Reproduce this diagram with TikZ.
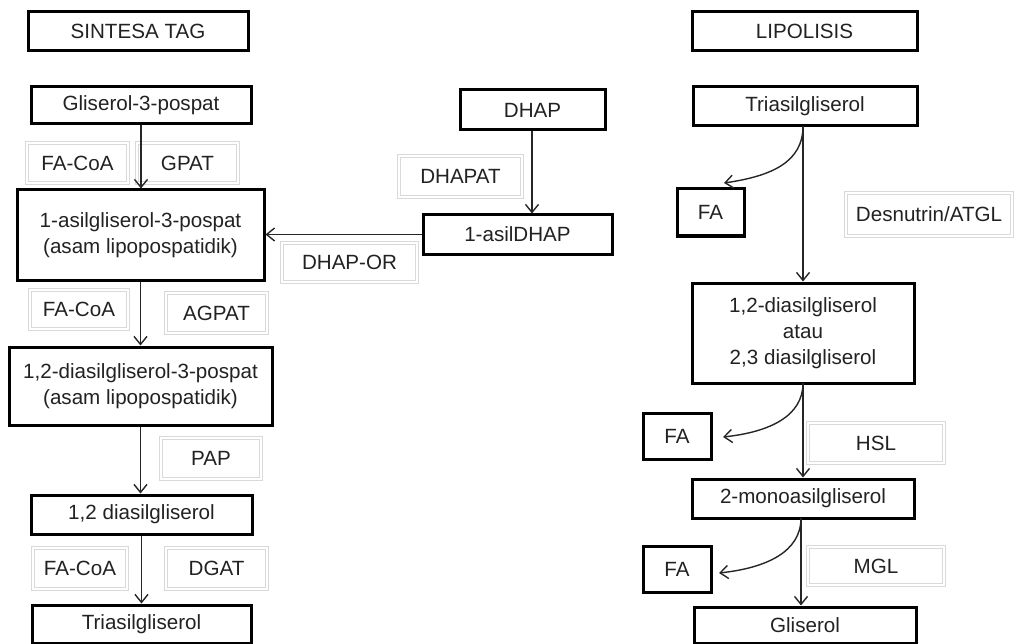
\documentclass[tikz,border=0pt]{standalone}
\usepackage{fontspec}
\setmainfont{Liberation Sans}
\usetikzlibrary{arrows.meta}
\definecolor{ink}{HTML}{222222}
\tikzset{
  stage/.style={draw=black, line width=3pt, fill=white, inner sep=0pt,
    text=ink, align=center, font=\fontsize{20.6}{26}\selectfont},
  enzyme/.style={draw=black!15, line width=1pt, double=white, double distance=2.4pt,
    inner sep=0pt, text=ink, align=center, font=\fontsize{20.6}{26}\selectfont},
  arr/.style={draw=black!85, line width=1.4pt, -{Straight Barb[length=8pt,width=13pt,line width=1.4pt]}},
}
% box given by its corners (x1,y1) and (x2,y2) in pixel units
\newcommand{\boxat}[7]{%
  \node[#1, minimum width={#5-#3}, minimum height={#6-#4}] (#2) at ({(#3+#5)/2},{(#4+#6)/2}) {#7};}
\begin{document}
\begin{tikzpicture}[x=1pt,y=-1pt]
\useasboundingbox (0,0) rectangle (1016,644);

% ---- TAG synthesis ----
\boxat{stage}{title1}{28}{12}{248}{51}{SINTESA TAG}
\boxat{stage}{g3p}{31}{87}{251}{124}{Gliserol-3-pospat}
\boxat{enzyme}{faA}{27}{143}{128}{183}{FA-CoA}
\boxat{enzyme}{gpat}{137}{143}{238}{183}{GPAT}
\boxat{stage}{lpa}{17}{190}{264}{280}{1-asilgliserol-3-pospat\\(asam lipopospatidik)}
\boxat{enzyme}{faB}{30}{290}{128}{329}{FA-CoA}
\boxat{enzyme}{agpat}{166}{293}{267}{333}{AGPAT}
\boxat{stage}{pa}{9}{347}{272}{425}{1,2-diasilgliserol-3-pospat\\(asam lipopospatidik)}
\boxat{enzyme}{pap}{161}{438}{261}{479}{PAP}
\boxat{stage}{dag}{31}{495}{252}{534}{1,2 diasilgliserol}
\boxat{enzyme}{faC}{33}{548}{127}{589}{FA-CoA}
\boxat{enzyme}{dgat}{166}{548}{267}{589}{DGAT}
\boxat{stage}{tagL}{32}{605}{251}{643}{Triasilgliserol}

% ---- DHAP branch ----
\boxat{stage}{dhap}{460}{90}{605}{130}{DHAP}
\boxat{enzyme}{dhapat}{399}{156}{522}{197}{DHAPAT}
\boxat{stage}{adhap}{423}{215}{612}{254}{1-asilDHAP}
\boxat{enzyme}{dhapor}{282}{243}{417}{282}{DHAP-OR}

% ---- Lipolysis ----
\boxat{stage}{title2}{692}{12}{917}{51}{LIPOLISIS}
\boxat{stage}{tagR}{693}{87}{917}{126}{Triasilgliserol}
\boxat{stage}{fa1}{677}{189}{744}{236}{FA}
\boxat{enzyme}{atgl}{846}{193}{1012}{236}{Desnutrin/ATGL}
\boxat{stage}{dagR}{692}{283}{914}{383}{1,2-diasilgliserol\\atau\\2,3 diasilgliserol}
\boxat{stage}{fa2}{643}{413}{711}{459}{FA}
\boxat{enzyme}{hsl}{808}{423}{944}{463}{HSL}
\boxat{stage}{mag}{692}{479}{914}{518}{2-monoasilgliserol}
\boxat{stage}{fa3}{643}{546}{711}{592}{FA}
\boxat{enzyme}{mgl}{808}{547}{944}{585}{MGL}
\boxat{stage}{gly}{694}{607}{916}{643}{Gliserol}

% ---- connectors ----
\draw[arr] (g3p.south) -- (g3p.south |- lpa.north);
\draw[arr] (lpa.south) -- (lpa.south |- pa.north);
\draw[arr] (pa.south) -- (pa.south |- dag.north);
\draw[arr] (dag.south) -- (dag.south |- tagL.north);
\draw[arr] ([xshift=-0.5pt]dhap.south) -- ([xshift=-0.5pt]dhap.south |- adhap.north);
\draw[arr] (adhap.west) -- (adhap.west -| lpa.east);

\coordinate (s1) at (803,126);
\coordinate (s2) at (803,383);
\coordinate (s3) at (801,518);
\coordinate (t1) at (724,183);
\coordinate (t2) at (723,437);
\coordinate (t3) at (719,573);
\draw[arr] (s1) -- (s1 |- dagR.north);
\draw[arr] (s2) -- (s2 |- mag.north);
\draw[arr] (s3) -- (s3 |- gly.north);
\draw[arr] (s1) .. controls (803,162) and (772,176) .. (t1);
\draw[arr] (s2) .. controls (803,416) and (770,432) .. (t2);
\draw[arr] (s3) .. controls (801,552) and (766,568) .. (t3);
\end{tikzpicture}
\end{document}
